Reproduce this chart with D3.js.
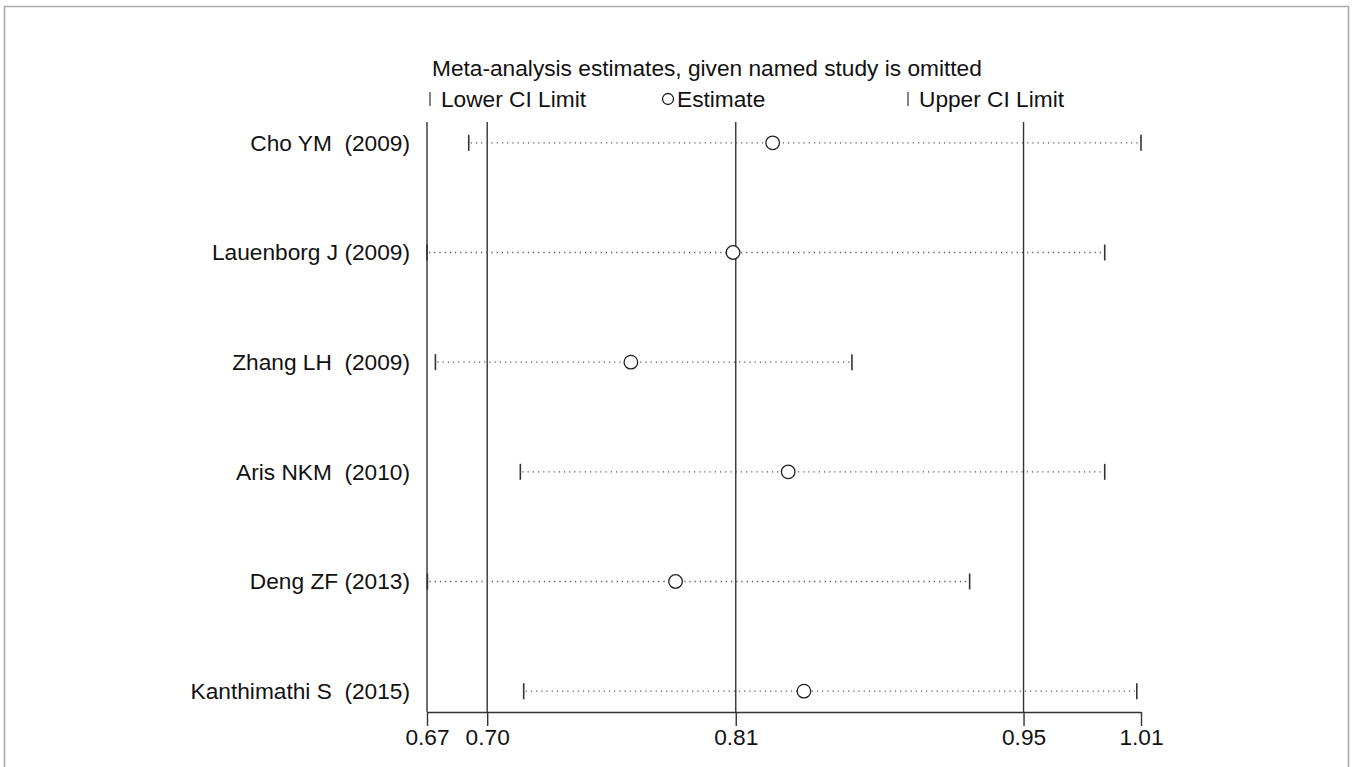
<!DOCTYPE html>
<meta charset="utf-8">
<style>
  body { margin: 0; background: #fff; }
  text { font-family: "Liberation Sans", Arial, sans-serif; fill: #111; white-space: pre; }
  .grid { stroke: #333; stroke-width: 1.4; }
  .ci { stroke: #555; stroke-width: 1.3; stroke-dasharray: 1.2,4; }
  .cap { stroke: #333; stroke-width: 1.6; }
  .est { fill: #fff; stroke: #222; stroke-width: 1.3; }
  .axis path, .axis line { stroke: #333; stroke-width: 1.4; }
  .axis text { font-size: 22.7px; fill: #111; }
</style>
<script src="https://d3js.org/d3.v7.min.js"></script>
<div id="my_dataviz"></div>
<script>

// studies omitted one at a time, and the pooled estimate with its CI
var studies = ["Cho YM  (2009)", "Lauenborg J (2009)", "Zhang LH  (2009)",
               "Aris NKM  (2010)", "Deng ZF (2013)", "Kanthimathi S  (2015)"];
var lowerCI  = [0.6867, 0.6668, 0.6708, 0.7113, 0.6670, 0.7129];
var estimate = [0.8316, 0.8127, 0.7640, 0.8390, 0.7853, 0.8465];
var upperCI  = [1.0072, 0.9899, 0.8694, 0.9899, 0.9255, 1.0052];

// ticks: min lower, pooled lower, pooled estimate, pooled upper, max upper
var tickValues = [0.6668, 0.6955, 0.8140, 0.9512, 1.0072];
var tickLabels = ["0.67", "0.70", "0.81", "0.95", "1.01"];

var title = "Meta-analysis estimates, given named study is omitted";
var legendLabels = ["Lower CI Limit", "Estimate", "Upper CI Limit"];

var W = 1352, H = 767;
var margin = {top: 122, left: 427, right: 211, bottom: 55},
    width = W - margin.left - margin.right,
    height = H - margin.top - margin.bottom;
var fontSize = "22.7px";

var svg = d3.select("#my_dataviz")
  .append("svg")
    .attr("width", W)
    .attr("height", H);

// thin grey frame round the figure
svg.append("rect")
    .attr("x", 4.5).attr("y", 6.5)
    .attr("width", W - 8).attr("height", H + 20)
    .attr("fill", "none")
    .attr("stroke", "#aaa")
    .attr("stroke-width", 1.5);

var g = svg.append("g")
    .attr("transform", "translate(" + margin.left + "," + margin.top + ")");

var x = d3.scaleLinear()
    .domain([d3.min(lowerCI), d3.max(upperCI)])
    .range([0, width]);

var y = d3.scalePoint()
    .domain(studies)
    .range([0, height])
    .padding(0.19);

// x axis
g.append("g")
    .attr("class", "axis")
    .attr("transform", "translate(0," + height + ")")
    .call(d3.axisBottom(x)
      .tickValues(tickValues)
      .tickFormat(function(d, i) { return tickLabels[i]; })
      .tickSize(14)
      .tickSizeOuter(0)
      .tickPadding(3))
    .call(function(a) { a.selectAll("text").attr("font-family", null); });

// left axis line and the vertical lines at the pooled values
g.append("line")
    .attr("class", "grid")
    .attr("x1", x(x.domain()[0])).attr("x2", x(x.domain()[0]))
    .attr("y1", 0).attr("y2", height);

g.selectAll(".ref")
  .data(tickValues.slice(1, 4))
  .enter()
  .append("line")
    .attr("class", "grid ref")
    .attr("x1", function(d) { return x(d); })
    .attr("x2", function(d) { return x(d); })
    .attr("y1", 0).attr("y2", height);

// one row per omitted study
var rows = g.selectAll(".row")
  .data(studies)
  .enter()
  .append("g")
    .attr("class", "row")
    .attr("transform", function(d) { return "translate(0," + y(d) + ")"; });

rows.append("line")
    .attr("class", "ci")
    .attr("x1", function(d, i) { return x(lowerCI[i]) + 2; })
    .attr("x2", function(d, i) { return x(upperCI[i]) - 2; });

rows.append("line")
    .attr("class", "cap")
    .attr("x1", function(d, i) { return x(lowerCI[i]); })
    .attr("x2", function(d, i) { return x(lowerCI[i]); })
    .attr("y1", -8).attr("y2", 8);

rows.append("line")
    .attr("class", "cap")
    .attr("x1", function(d, i) { return x(upperCI[i]); })
    .attr("x2", function(d, i) { return x(upperCI[i]); })
    .attr("y1", -8).attr("y2", 8);

rows.append("circle")
    .attr("class", "est")
    .attr("cx", function(d, i) { return x(estimate[i]); })
    .attr("r", 6.8);

rows.append("text")
    .attr("x", -17)
    .attr("dy", "0.35em")
    .attr("text-anchor", "end")
    .style("font-size", fontSize)
    .text(function(d) { return d; });

// title and legend
svg.append("text")
    .attr("x", 432).attr("y", 76)
    .style("font-size", fontSize)
    .text(title);

var legendX = [430, 668, 908];
var leg = svg.selectAll(".leg")
  .data(legendLabels)
  .enter()
  .append("g")
    .attr("class", "leg")
    .attr("transform", function(d, i) { return "translate(" + legendX[i] + ",99)"; });

leg.filter(function(d, i) { return i != 1; })
  .append("line")
    .attr("y1", -7).attr("y2", 7)
    .attr("stroke", "#444").attr("stroke-width", 1.3);

leg.filter(function(d, i) { return i == 1; })
  .append("circle")
    .attr("r", 5.5)
    .attr("fill", "#fff").attr("stroke", "#222").attr("stroke-width", 1.3);

leg.append("text")
    .attr("x", function(d, i) { return i == 1 ? 9 : 11; })
    .attr("dy", "0.35em")
    .style("font-size", fontSize)
    .text(function(d) { return d; });

</script>
